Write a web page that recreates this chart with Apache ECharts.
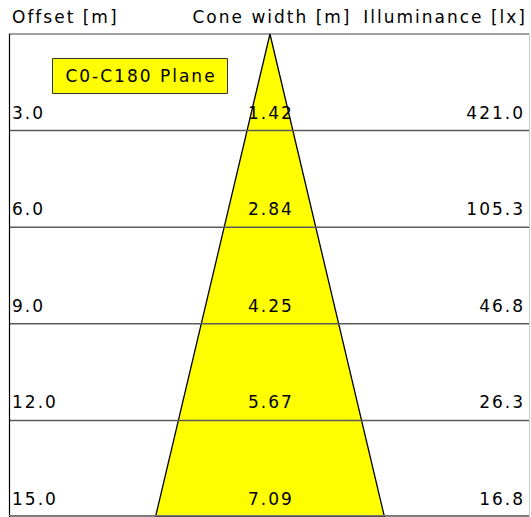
<!DOCTYPE html>
<html><head><meta charset="utf-8">
<script src="https://cdn.jsdelivr.net/npm/echarts@6/dist/echarts.min.js"></script>
<style>html,body{margin:0;padding:0;background:#fff}#c{width:531px;height:517px}#c svg text{letter-spacing:2px}</style>
</head><body><div id="c"></div><script>
const offsets = [3, 6, 9, 12, 15];
const coneWidths = [1.42, 2.84, 4.25, 5.67, 7.09];
const illuminance = [421.0, 105.3, 46.8, 26.3, 16.8];
const headers = ['Offset [m]', 'Cone width [m]', 'Illuminance [lx]'];
const planeLabel = 'C0-C180 Plane';

const FONT = '"DejaVu Sans", Verdana, sans-serif';
const FS = 17;
const chart = echarts.init(document.getElementById('c'), null, {renderer: 'svg'});
const lastW = coneWidths[coneWidths.length - 1];
const lastO = offsets[offsets.length - 1];
const rows = offsets.map((o, i) => [o, coneWidths[i], illuminance[i]]);

const option = {
  animation: false,
  grid: {left: 9, top: 34, width: 520, height: 484.5},
  xAxis: {type: 'value', min: -8.08, max: 8.02, show: false},
  yAxis: {type: 'value', min: 0, max: 15, interval: 3, inverse: true, show: false},
  series: [
    {
      type: 'custom', z: 1, data: [0],
      renderItem: (params, api) => {
        const a = api.coord([0, 0]);
        const l = api.coord([-lastW / 2, lastO]);
        const r = api.coord([lastW / 2, lastO]);
        return {type: 'polygon', shape: {points: [a, l, r]},
          style: {fill: '#ffff00', stroke: '#000', lineWidth: 1.3}};
      }
    },
    {
      type: 'custom', z: 3, data: rows,
      renderItem: (params, api) => {
        const cs = params.coordSys;
        const o = api.value(0), c = api.value(1), il = api.value(2);
        const y = api.coord([0, o])[1];
        const cx = api.coord([0, o])[0];
        const ts = {font: FS + 'px ' + FONT, fill: '#000', verticalAlign: 'middle'};
        return {type: 'group', children: [
          {type: 'line', shape: {x1: cs.x, y1: y, x2: cs.x + cs.width, y2: y},
            style: {stroke: '#5a5a5a', lineWidth: 1.5}},
          {type: 'text', x: cs.x + 3, y: y - 18, style: Object.assign({text: o.toFixed(1), align: 'left'}, ts)},
          {type: 'text', x: cx + 1, y: y - 18, style: Object.assign({text: c.toFixed(2), align: 'center'}, ts)},
          {type: 'text', x: cs.x + cs.width - 4, y: y - 18, style: Object.assign({text: il.toFixed(1), align: 'right'}, ts)}
        ]};
      }
    }
  ],
  graphic: [
    {type: 'line', z: 10, shape: {x1: 9, y1: 34, x2: 529, y2: 34}, style: {stroke: '#444', lineWidth: 1.2}},
    {type: 'line', z: 10, shape: {x1: 9.5, y1: 34, x2: 9.5, y2: 517}, style: {stroke: '#000', lineWidth: 1.2}},
    {type: 'line', z: 10, shape: {x1: 529.5, y1: 34, x2: 529.5, y2: 517}, style: {stroke: '#ccc', lineWidth: 1}},
    {type: 'line', z: 10, shape: {x1: 9, y1: 515.5, x2: 529, y2: 515.5}, style: {stroke: '#777', lineWidth: 1.2}},
    {type: 'text', x: 12, y: 17, style: {text: headers[0], font: FS + 'px ' + FONT, fill: '#000', align: 'left', verticalAlign: 'middle'}},
    {type: 'text', x: 272, y: 17, style: {text: headers[1], font: FS + 'px ' + FONT, fill: '#000', align: 'center', verticalAlign: 'middle'}},
    {type: 'text', x: 527, y: 17, style: {text: headers[2], font: FS + 'px ' + FONT, fill: '#000', align: 'right', verticalAlign: 'middle'}},
    {type: 'rect', z: 10, shape: {x: 52.5, y: 58.5, width: 175, height: 35}, style: {fill: '#ffff00', stroke: '#333', lineWidth: 1}},
    {type: 'text', z: 11, x: 141, y: 76, style: {text: planeLabel, font: FS + 'px ' + FONT, fill: '#000', align: 'center', verticalAlign: 'middle'}}
  ]
};
chart.setOption(option);
</script></body></html>
